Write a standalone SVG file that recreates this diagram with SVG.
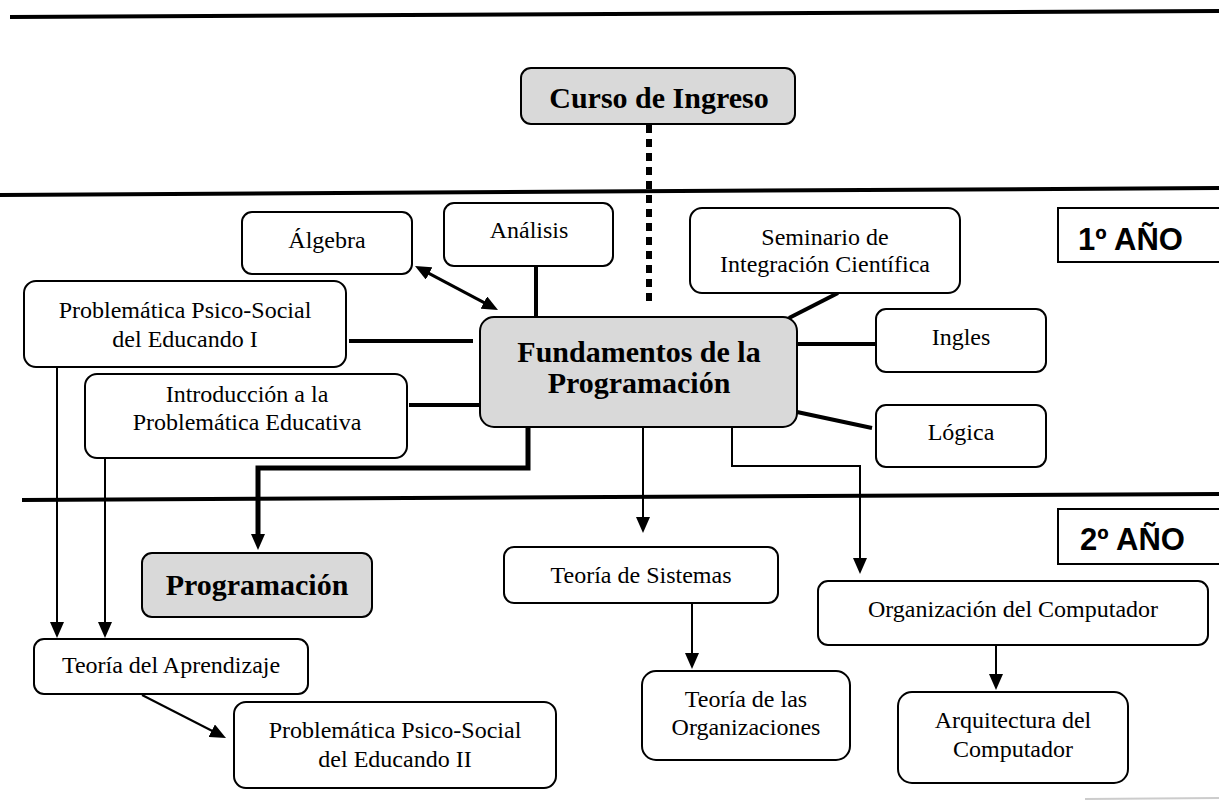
<svg xmlns="http://www.w3.org/2000/svg" width="1219" height="801" viewBox="0 0 1219 801">
<style>
.bx{fill:#fff;stroke:#000;stroke-width:2}
.gy{fill:#d9d9d9;stroke:#000;stroke-width:2}
.t{font-family:"Liberation Serif","Times New Roman",serif;font-size:24px;text-anchor:middle;fill:#000}
.tb{font-family:"Liberation Serif","Times New Roman",serif;font-size:30px;font-weight:bold;text-anchor:middle;fill:#000}
.ys{font-family:"Liberation Sans",Arial,sans-serif;font-size:31px;font-weight:bold;fill:#000}
.sep{stroke:#000;stroke-width:4;fill:none}
.c4{stroke:#000;stroke-width:4;fill:none}
.c2{stroke:#000;stroke-width:2;fill:none}
.c5{stroke:#000;stroke-width:5;fill:none}
</style>
<defs>
<marker id="ah" viewBox="0 0 16 14" refX="4" refY="7" markerWidth="16" markerHeight="14" markerUnits="userSpaceOnUse" orient="auto-start-reverse"><path d="M0,0 L16,7 L0,14 z" fill="#000"/></marker>
</defs>
<rect width="1219" height="801" fill="#fff"/>
<g id="separators">
<line class="sep" x1="10" y1="17" x2="1219" y2="11"/>
<line class="sep" x1="0" y1="195" x2="1219" y2="188"/>
<line class="sep" x1="22" y1="500" x2="1219" y2="494"/>
<line x1="1085" y1="799" x2="1219" y2="798" stroke="#ccc" stroke-width="2"/>
</g>
<g id="connectors">
<line x1="649" y1="125" x2="649" y2="303" stroke="#000" stroke-width="6" stroke-dasharray="8,6"/>
<line class="c4" x1="536" y1="266" x2="536" y2="318"/>
<line class="c4" x1="838" y1="293" x2="789" y2="318"/>
<line class="c4" x1="349" y1="341" x2="473" y2="341"/>
<line class="c4" x1="409" y1="405" x2="480" y2="405"/>
<line class="c4" x1="797" y1="344" x2="876" y2="344"/>
<line class="c4" x1="797" y1="412" x2="872" y2="428"/>
<line x1="425.6" y1="271.6" x2="487.4" y2="304.4" stroke="#000" stroke-width="3" marker-start="url(#ah)" marker-end="url(#ah)"/>
<path class="c5" d="M528,427 V468 H258 V538" marker-end="url(#ah)"/>
<path class="c2" d="M643,427 V521" marker-end="url(#ah)"/>
<path class="c2" d="M732,427 V466 H860 V562" marker-end="url(#ah)"/>
<path class="c2" d="M57,367 V626" marker-end="url(#ah)"/>
<path class="c2" d="M105,458 V626" marker-end="url(#ah)"/>
<path class="c2" d="M142,695 L215.3,732.5" marker-end="url(#ah)"/>
<path class="c2" d="M692,603 V657" marker-end="url(#ah)"/>
<path class="c2" d="M996,645 V678" marker-end="url(#ah)"/>
</g>
<g id="curso"><rect class="gy" x="521" y="68" width="274" height="56" rx="10"/><text class="tb" x="659" y="108">Curso de Ingreso</text></g>
<g id="algebra"><rect class="bx" x="242" y="212" width="170" height="62" rx="10"/><text class="t" x="327" y="248">Álgebra</text></g>
<g id="analisis"><rect class="bx" x="444" y="203" width="169" height="63" rx="10"/><text class="t" x="529" y="238">Análisis</text></g>
<g id="seminario"><rect class="bx" x="690" y="208" width="270" height="85" rx="12"/><text class="t" x="825" y="245">Seminario de</text><text class="t" x="825" y="272">Integración Científica</text></g>
<g id="anio1"><rect x="1058" y="208" width="200" height="54" fill="#fff" stroke="#000" stroke-width="2"/><text class="ys" x="1078" y="250">1º AÑO</text></g>
<g id="psico1"><rect class="bx" x="24" y="281" width="322" height="86" rx="12"/><text class="t" x="185" y="318">Problemática Psico-Social</text><text class="t" x="185" y="347">del Educando I</text></g>
<g id="fundamentos"><rect class="gy" x="480" y="317" width="317" height="110" rx="14"/><text class="tb" x="639" y="362">Fundamentos de la</text><text class="tb" x="639" y="393">Programación</text></g>
<g id="ingles"><rect class="bx" x="876" y="309" width="170" height="63" rx="10"/><text class="t" x="961" y="345">Ingles</text></g>
<g id="intro"><rect class="bx" x="85" y="374" width="322" height="84" rx="12"/><text class="t" x="247" y="402">Introducción a la</text><text class="t" x="247" y="430">Problemática Educativa</text></g>
<g id="logica"><rect class="bx" x="876" y="405" width="170" height="62" rx="10"/><text class="t" x="961" y="440">Lógica</text></g>
<g id="anio2"><rect x="1058" y="509" width="200" height="55" fill="#fff" stroke="#000" stroke-width="2"/><text class="ys" x="1080" y="550">2º AÑO</text></g>
<g id="programacion"><rect class="gy" x="142" y="553" width="230" height="64" rx="10"/><text class="tb" x="257" y="595">Programación</text></g>
<g id="sistemas"><rect class="bx" x="504" y="547" width="274" height="56" rx="10"/><text class="t" x="641" y="583">Teoría de Sistemas</text></g>
<g id="organizacion"><rect class="bx" x="818" y="581" width="390" height="64" rx="10"/><text class="t" x="1013" y="617">Organización del Computador</text></g>
<g id="aprendizaje"><rect class="bx" x="34" y="639" width="274" height="55" rx="10"/><text class="t" x="171" y="673">Teoría del Aprendizaje</text></g>
<g id="psico2"><rect class="bx" x="234" y="702" width="322" height="86" rx="12"/><text class="t" x="395" y="738">Problemática Psico-Social</text><text class="t" x="395" y="767">del Educando II</text></g>
<g id="organizaciones"><rect class="bx" x="642" y="671" width="208" height="89" rx="14"/><text class="t" x="746" y="707">Teoría de las</text><text class="t" x="746" y="735">Organizaciones</text></g>
<g id="arquitectura"><rect class="bx" x="898" y="692" width="230" height="91" rx="14"/><text class="t" x="1013" y="728">Arquitectura del</text><text class="t" x="1013" y="757">Computador</text></g>
</svg>
